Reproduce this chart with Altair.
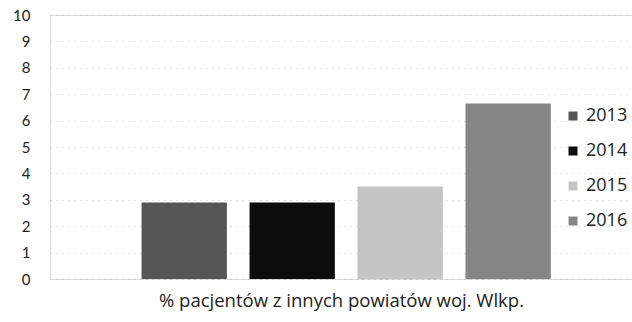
import altair as alt
import pandas as pd

years = ["2013", "2014", "2015", "2016"]
values = [2.9, 2.9, 3.5, 6.65]
category = "% pacjentów z innych powiatów woj. Wlkp."
colors = ["#555555", "#0c0c0c", "#c4c4c4", "#858585"]

df = pd.DataFrame({"rok": years, "wartosc": values, "kategoria": [category] * len(years)})

FONT = "Lato"
FONT2 = "Open Sans"

chart = alt.Chart(df).mark_bar().encode(
    x=alt.X("rok:N", scale=alt.Scale(paddingInner=0.21, paddingOuter=0.8, align=0.53),
            axis=alt.Axis(labels=False, ticks=False, domain=False, grid=False,
                          title=category, titleFontSize=18.5, titleFont=FONT2,
                          titleFontWeight="normal", titleColor="#222", titlePadding=12)),
    y=alt.Y("wartosc:Q", scale=alt.Scale(domain=[0, 10], nice=False),
            axis=alt.Axis(values=list(range(0, 11)), title=None, domain=False, ticks=False,
                          labelFontSize=15, labelFont=FONT, labelColor="#222", labelPadding=20,
                          gridDash=[1, 5], gridColor="#999", gridOpacity=0.6)),
    color=alt.Color("rok:N", scale=alt.Scale(domain=years, range=colors),
                    legend=alt.Legend(title=None, orient="none", legendX=514, legendY=92,
                                      symbolType="square", symbolSize=81, symbolStrokeWidth=0,
                                      labelFontSize=18, labelFont=FONT2, labelColor="#222",
                                      rowPadding=17, labelOffset=4)),
).properties(
    width=582, height=264,
    autosize=alt.AutoSizeParams(type="none"),
    padding={"left": 50, "top": 15, "right": 0, "bottom": 43},
).configure_view(stroke=None).configure(background="white")

chart.save("out.html", embed_options={"renderer": "svg", "actions": False})
